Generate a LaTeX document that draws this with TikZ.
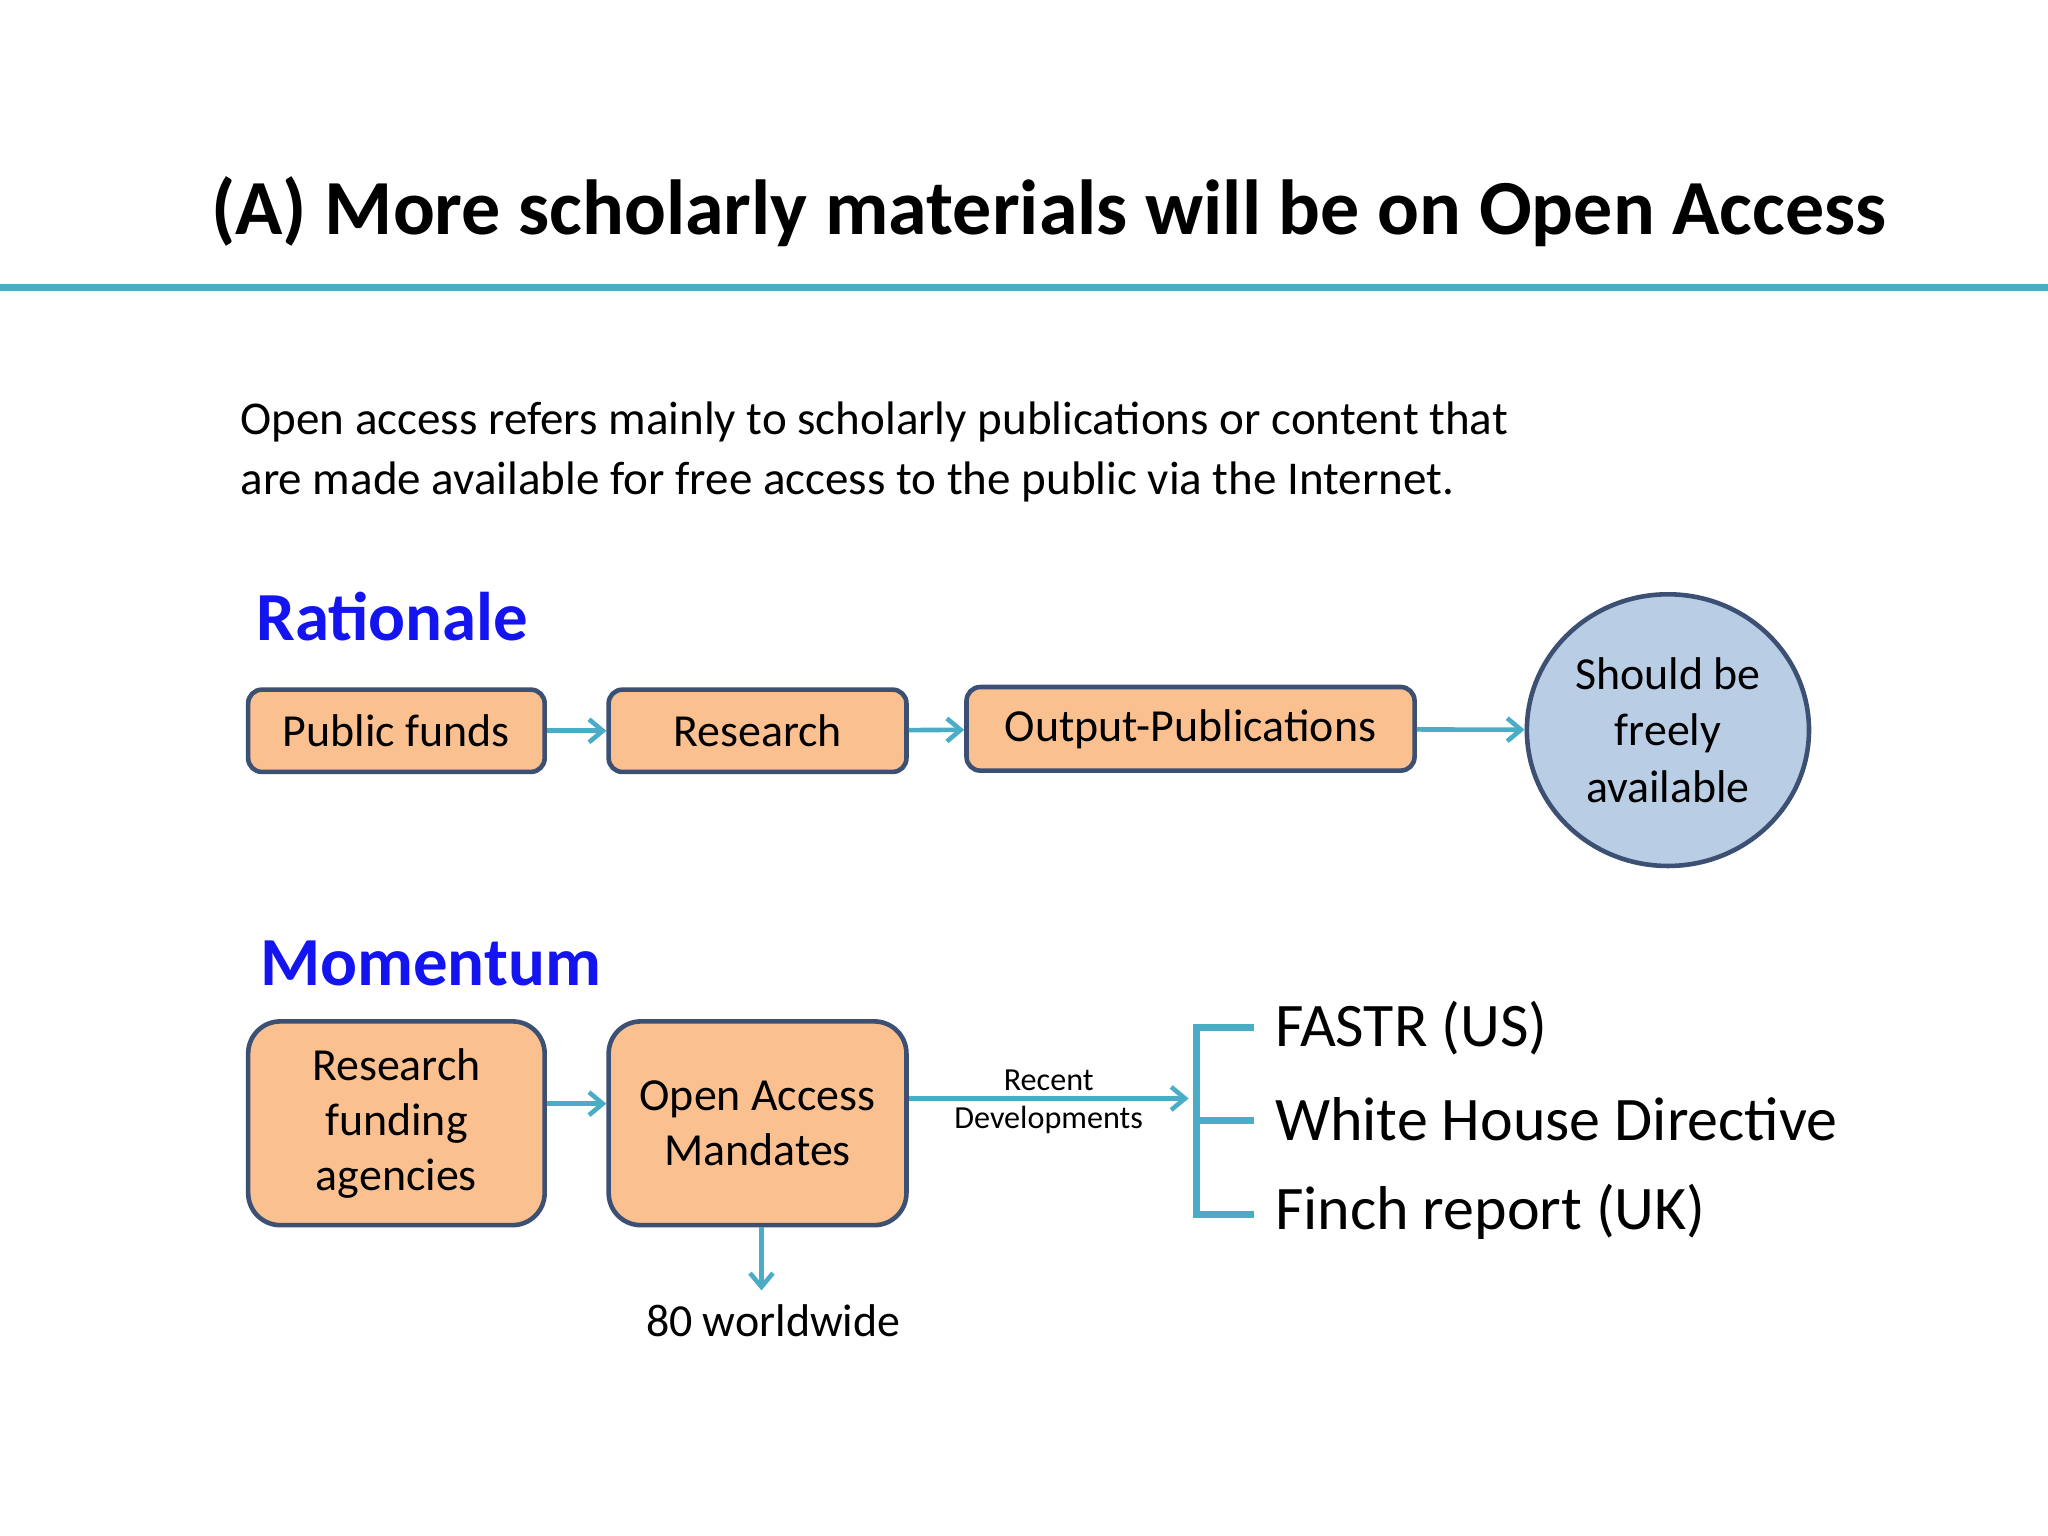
\documentclass[tikz,border=0pt]{standalone}
\usepackage{fontspec}
\setmainfont{Carlito}
\usetikzlibrary{arrows.meta,shapes.geometric}
\definecolor{teal1}{RGB}{75,172,198}
\definecolor{boxfill}{RGB}{250,192,143}
\definecolor{boxline}{RGB}{60,80,115}
\definecolor{circfill}{RGB}{185,205,229}
\definecolor{headblue}{RGB}{20,20,240}
\begin{document}
\begin{tikzpicture}[x=0.02cm,y=-0.02cm,
  obox/.style={draw=boxline,line width=2pt,fill=boxfill,rounded corners=6pt,inner sep=0pt,font=\fontsize{20}{24}\selectfont,align=center},
  arr/.style={draw=teal1,line width=2pt,-{Straight Barb[length=6pt,width=10pt]}},
  head/.style={font=\fontsize{30}{36}\selectfont\bfseries,text=headblue,anchor=west}]
\useasboundingbox (0,0) rectangle (1568,1176);
\node (title) at (803,162) {\fontsize{34}{40}\selectfont\bfseries (A) More scholarly materials will be on Open Access};
\draw[teal1,line width=3pt] (0,220) -- (1568,220);
\node[anchor=west,align=left,font=\fontsize{20.5}{26}\selectfont] (intro) at (178,346) {Open access refers mainly to scholarly publications or content that\\are made available for free access to the public via the Internet.};
\node[head] (rat) at (190,472) {Rationale};
\node[obox,minimum width=227*0.02cm,minimum height=63*0.02cm] (pf) at (303.5,559.5) {Public funds};
\node[obox,minimum width=228*0.02cm,minimum height=63*0.02cm] (rs) at (580,559.5) {Research};
\node[obox,minimum width=343*0.02cm,minimum height=64*0.02cm] (op) at (911.5,558) {Output-Publications};
\node[draw=boxline,line width=2pt,fill=circfill,ellipse,minimum width=216*0.02cm,minimum height=208*0.02cm,inner sep=0pt,align=center,font=\fontsize{20}{24.5}\selectfont] (sf) at (1277,559) {Should be\\freely\\available};
\draw[arr] (pf) -- (rs);
\draw[arr] (rs) -- (op);
\draw[arr] (op) -- (sf);
\node[head] (mom) at (193,738) {Momentum};
\node[obox,minimum width=227*0.02cm,minimum height=156*0.02cm,rounded corners=14pt] (rfa) at (303.5,860) {Research\\funding\\agencies};
\node[obox,minimum width=228*0.02cm,minimum height=156*0.02cm,rounded corners=14pt] (oam) at (580,860) {Open Access\\Mandates};
\draw[arr] (rfa.east |- 0,845) -- (oam.west |- 0,845);
\coordinate (bk) at (910,841);
\draw[arr] (oam.east |- 0,841) -- (bk) node[midway,above=-1pt,font=\fontsize{14}{16}\selectfont] {Recent} node[midway,below=-1pt,font=\fontsize{14}{16}\selectfont] {Developments};
\coordinate (wt) at (583,988);
\draw[arr] (oam.south -| wt) -- (wt);
\node[font=\fontsize{20}{24}\selectfont] (ww) at (592,1011) {80 worldwide};
\node[anchor=west,font=\fontsize{27}{32}\selectfont] (fa) at (970,787) {FASTR (US)};
\node[anchor=west,font=\fontsize{27}{32}\selectfont] (wh) at (970,857) {White House Directive};
\node[anchor=west,font=\fontsize{27}{32}\selectfont] (fi) at (970,928) {Finch report (UK)};
\draw[teal1,line width=3pt] (960,787) -- (916,787) -- (916,930) -- (960,930);
\draw[teal1,line width=3pt] (916,858) -- (960,858);
\end{tikzpicture}
\end{document}
